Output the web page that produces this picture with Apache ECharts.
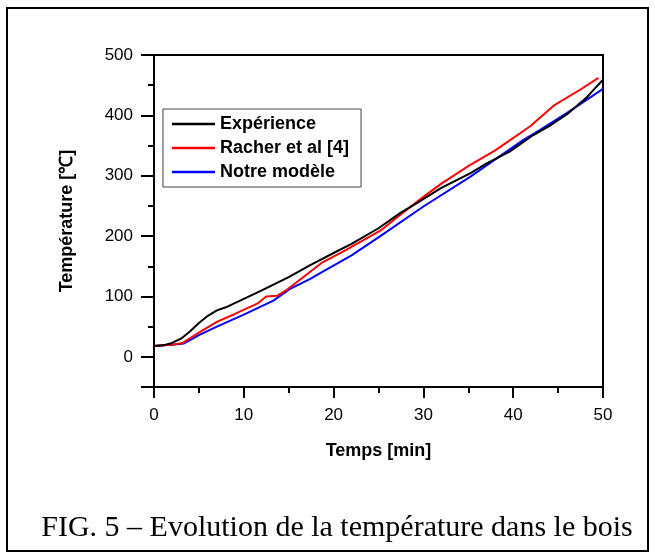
<!DOCTYPE html>
<html>
<head>
<meta charset="utf-8">
<script src="https://cdn.jsdelivr.net/npm/echarts@6/dist/echarts.min.js"></script>
<style>
html,body{margin:0;padding:0;background:#fff;}
#chart{width:655px;height:559px;}
</style>
</head>
<body>
<div id="chart"></div>
<script>
// ---- data ----
var seriesNames = ['Expérience', 'Racher et al [4]', 'Notre modèle'];
var experience = [[0,18],[1,19],[2,23],[3,30],[4,42],[5,56],[6,68],[7,77],[8,82],[10,96],[12,110],[15,132],[17.4,152],[20,172],[22,187],[25,213],[27.4,238],[29.4,256],[32,280],[35.2,304],[37,320],[39.6,340],[42.2,367],[44,382],[46,402],[48.2,430],[49,443],[50,459]];
var racher = [[0,18],[1,19],[2,20],[3.2,23],[5,40],[7,58],[9,71],[11.5,88],[12.5,100],[13.7,101],[14.8,111],[17.4,141],[18.8,157],[21,174],[25.2,209],[27.4,235],[30,265],[32,287],[35,316],[38,342],[41.9,382],[44.5,416],[47.4,442],[49.5,462]];
var modele = [[0,18],[2,20],[3.3,22],[5,36],[7,50],[10,70],[13.3,93],[15.1,112],[17.4,129],[18.8,141],[22,168],[25.2,200],[30,249],[35.2,298],[38,327],[41.1,359],[43,376],[46,404],[48,424],[50,444]];
var colors = ['#000000', '#ff0000', '#0000ff'];
var yMajorTicks = [-50, 0, 100, 200, 300, 400, 500];
var xTitle = 'Temps [min]';
var yTitle = 'Température [℃]';
var caption = 'FIG. 5 – Evolution de la température dans le bois';

var chart = echarts.init(document.getElementById('chart'));
var sans = '"Liberation Sans", Arial, sans-serif';
var allData = [experience, racher, modele];
var option = {
  animation: false,
  backgroundColor: '#fff',
  grid: {left: 154, right: 52, top: 55, bottom: 172, show: true, borderColor: '#000', borderWidth: 2, backgroundColor: 'transparent'},
  legend: {
    orient: 'vertical', left: 163, top: 109,
    data: seriesNames.map(function (n) { return {name: n, icon: 'rect'}; }),
    itemWidth: 43, itemHeight: 2.5, itemGap: 6,
    padding: [6, 12, 6, 9],
    borderColor: '#444', borderWidth: 1,
    textStyle: {fontFamily: sans, fontWeight: 'bold', fontSize: 18, color: '#000'}
  },
  xAxis: {
    type: 'value', min: 0, max: 50, interval: 10,
    name: xTitle, nameLocation: 'middle', nameGap: 55,
    nameTextStyle: {fontFamily: sans, fontWeight: 'bold', fontSize: 18, color: '#000'},
    axisLine: {show: true, onZero: false, lineStyle: {color: '#000', width: 2}},
    axisTick: {show: true, length: 11, lineStyle: {color: '#000', width: 2}},
    minorTick: {show: true, splitNumber: 2, length: 6, lineStyle: {color: '#000', width: 2}},
    splitLine: {show: false},
    axisLabel: {fontFamily: sans, fontSize: 17, color: '#000', margin: 20}
  },
  yAxis: [{
    type: 'value', min: -50, max: 500, interval: 50,
    name: yTitle, nameLocation: 'middle', nameGap: 78, nameRotate: 90,
    nameTextStyle: {fontFamily: sans, fontWeight: 'bold', fontSize: 18, color: '#000'},
    axisLine: {show: true, onZero: false, lineStyle: {color: '#000', width: 2}},
    axisTick: {show: true, length: 6, lineStyle: {color: '#000', width: 2}},
    splitLine: {show: false},
    axisLabel: {fontFamily: sans, fontSize: 17, color: '#000', margin: 21,
      formatter: function (v) { return (v >= 0 && v % 100 === 0) ? String(v) : ''; }}
  }, {
    type: 'value', min: -50, max: 500, position: 'left',
    axisLine: {show: false},
    axisTick: {show: true, length: 13, customValues: yMajorTicks, lineStyle: {color: '#000', width: 2}},
    axisLabel: {show: false},
    splitLine: {show: false}
  }],
  graphic: [
    {type: 'rect', shape: {x: 7, y: 8, width: 641, height: 543}, style: {fill: 'none', stroke: '#000', lineWidth: 2}, z: 100},
    {type: 'text', x: 337, y: 543, style: {text: caption, font: '30px "Liberation Serif", "Times New Roman", serif', fill: '#000', textAlign: 'center', textVerticalAlign: 'bottom'}}
  ],
  series: seriesNames.map(function (n, i) {
    return {
      name: n, type: 'line', data: allData[i], symbol: 'none', smooth: false,
      lineStyle: {color: colors[i], width: 2}, itemStyle: {color: colors[i]},
      z: 3 - i
    };
  })
};
chart.setOption(option);
</script>
</body>
</html>
